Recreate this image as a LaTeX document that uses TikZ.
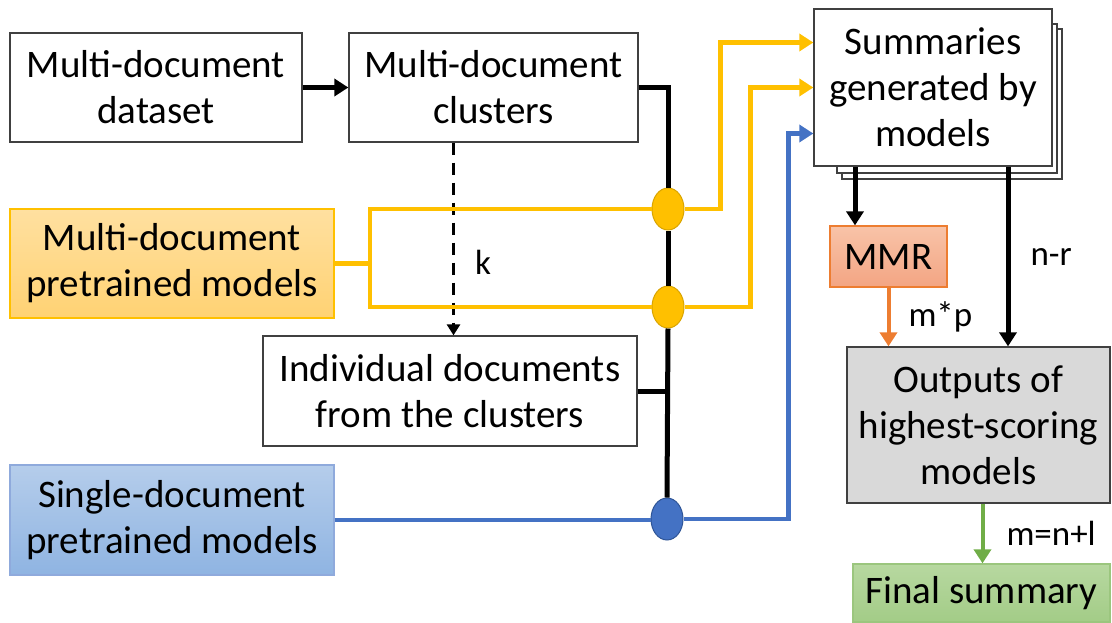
\documentclass[tikz,border=0pt]{standalone}
\usepackage{fontspec}
\setmainfont{Carlito}
\usetikzlibrary{arrows.meta,shapes.geometric}

\definecolor{gold}{HTML}{FFC000}
\definecolor{golddark}{HTML}{D9A400}
\definecolor{cblue}{HTML}{4472C4}
\definecolor{cbluedark}{HTML}{2F5597}
\definecolor{corange}{HTML}{ED7D31}
\definecolor{cgreen}{HTML}{70AD47}

\begin{document}
\begin{tikzpicture}[x=1pt,y=-1pt,
  box/.style={draw=black!75,line width=1.3pt,align=center,inner sep=0pt,font=\fontsize{39}{46}\selectfont},
  junc/.style={ellipse,minimum width=32pt,minimum height=42pt,inner sep=0pt,line width=1pt},
  lbl/.style={font=\fontsize{35}{40}\selectfont,inner sep=0pt,anchor=west},
  blk/.style={line width=5pt,black},
  gold line/.style={line width=4.5pt,gold},
  tip/.style={-{Triangle[length=14pt,width=17pt]}}]
\useasboundingbox (0,0) rectangle (1112,622);

\draw[fill=white,line width=1.3pt,draw=black!75] (842,29) rectangle (1062,179);
\draw[fill=white,line width=1.3pt,draw=black!75] (837,24) rectangle (1057,173);

\node[box,minimum width=292pt,minimum height=109pt] (dataset) at (156,87.5) {Multi-document\\dataset};
\node[box,minimum width=289pt,minimum height=109pt] (clusters) at (493.5,87.5) {Multi-document\\clusters};
\node[box,draw=gold,top color={rgb,255:red,255;green,224;blue,160},bottom color={rgb,255:red,255;green,210;blue,115},minimum width=324pt,minimum height=109pt] (multi) at (172,263.5) {Multi-document\\pretrained models};
\node[box,minimum width=374pt,minimum height=110pt] (indiv) at (450,391) {Individual documents\\from the clusters};
\node[box,draw=cblue!60,top color={rgb,255:red,181;green,205;blue,235},bottom color={rgb,255:red,143;green,180;blue,226},minimum width=324pt,minimum height=110pt] (single) at (172,520) {Single-document\\pretrained models};
\node[box,fill=white,minimum width=238pt,minimum height=157pt] (summ) at (933,87.5) {Summaries\\generated by\\models};
\node[box,draw=corange,top color={rgb,255:red,248;green,195;blue,168},bottom color={rgb,255:red,243;green,165;blue,131},minimum width=117pt,minimum height=61pt] (mmr) at (888.5,256.5) {MMR};
\node[box,fill=black!15,minimum width=263pt,minimum height=156pt] (outputs) at (978.5,425) {Outputs of\\highest-scoring\\models};
\node[box,draw=cgreen!70,top color={rgb,255:red,183;green,216;blue,160},bottom color={rgb,255:red,163;green,204;blue,135},minimum width=257pt,minimum height=58pt] (final) at (981.5,593) {Final summary};

\node[junc,fill=gold,draw=golddark] (j1) at (668,209) {};
\node[junc,fill=gold,draw=golddark] (j2) at (668,307) {};
\node[junc,fill=cblue,draw=cbluedark] (j3) at (667,519) {};

\draw[blk,tip] (dataset) -- (clusters);
\draw[blk] (clusters.east) -| (j1.north);
\draw[blk] (j1.south) -- (j2.north);
\draw[blk] (j2.south) -- (j3.north);
\draw[blk] (indiv.east) -- (indiv.east -| j2);
\draw[line width=3pt,dash pattern=on 12pt off 8pt,-{Triangle[length=11pt,width=13pt]}] ([xshift=-40pt]clusters.south) -- ([xshift=-40pt]clusters.south |- indiv.north) node[lbl,pos=0.62,xshift=20pt] {k};

\coordinate (split) at (370,263.5);
\draw[gold line] (multi.east) -- (split);
\draw[gold line] (j1.west) -| (split) |- (j2.west);
\draw[gold line,tip] (j1.east) -- ++(36,0) |- ([yshift=45pt]summ.west);
\draw[gold line,tip] (j2.east) -- ++(66,0) |- (summ.west);
\draw[line width=4.5pt,cblue] (single.east) -- (single.east -| j3.west);
\draw[line width=4.5pt,cblue,tip] (j3.east) -- ++(105,0) |- ([yshift=-46pt]summ.west);

\draw[blk,tip] ([xshift=-33.5pt]mmr.north |- summ.south) -- ([xshift=-33.5pt]mmr.north);
\draw[blk,tip] ([xshift=29.5pt]outputs.north |- summ.south) -- ([xshift=29.5pt]outputs.north) node[lbl,midway,xshift=20pt] {n-r};
\draw[line width=4pt,corange,tip] (mmr.south) -- (mmr.south |- outputs.north) node[lbl,black,midway,xshift=18pt] {m*p};
\draw[line width=4pt,cgreen,tip] ([xshift=4pt]outputs.south) -- ([xshift=4pt]outputs.south |- final.north) node[lbl,black,midway,xshift=22pt] {m=n+l};
\end{tikzpicture}
\end{document}
